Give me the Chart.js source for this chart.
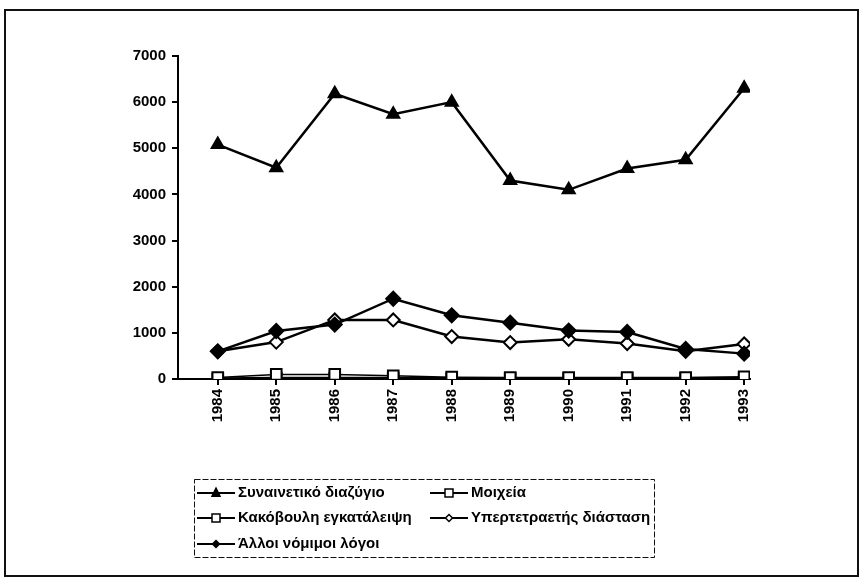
<!DOCTYPE html>
<html>
<head>
<meta charset="utf-8">
<script src="https://cdn.jsdelivr.net/npm/chart.js@4.4.1/dist/chart.umd.min.js"></script>
<style>
  html, body { margin: 0; padding: 0; background: #fff; }
  #wrap { width: 864px; height: 581px; position: relative; }
</style>
</head>
<body>
<div id="wrap"><canvas id="chart" width="864" height="581"></canvas></div>
<script>
// data
const years = [1984, 1985, 1986, 1987, 1988, 1989, 1990, 1991, 1992, 1993];
const synainetiko = [5080, 4580, 6180, 5740, 6000, 4300, 4100, 4560, 4750, 6300];
const moixeia = [10, 20, 20, 20, 15, 15, 15, 15, 15, 20];
const kakovouli = [30, 100, 100, 70, 40, 30, 30, 30, 30, 50];
const ypertetraetis = [600, 800, 1280, 1280, 920, 790, 860, 770, 600, 760];
const alloi = [600, 1040, 1180, 1740, 1380, 1220, 1050, 1020, 650, 550];
const yTicks = [0, 1000, 2000, 3000, 4000, 5000, 6000, 7000];

const labels = ['Συναινετικό διαζύγιο', 'Μοιχεία', 'Κακόβουλη εγκατάλειψη', 'Υπερτετραετής διάσταση', 'Άλλοι νόμιμοι λόγοι'];
const FONT = '"Liberation Sans", Arial, sans-serif';

function pts(arr) {
  return years.map((y, i) => ({ x: y, y: arr[i] }));
}

function ds(label, arr, style, radius, fill, order) {
  return {
    label: label,
    data: pts(arr),
    borderColor: '#000',
    borderWidth: 2.5,
    pointStyle: style,
    pointRadius: radius,
    pointBackgroundColor: fill,
    pointBorderColor: '#000',
    pointBorderWidth: 2,
    tension: 0,
    order: order
  };
}

const datasets = [
  ds(labels[0], synainetiko, 'triangle', 7, '#000', 0),
  ds(labels[1], moixeia, 'rect', 7.5, '#fff', 2),
  ds(labels[2], kakovouli, 'rect', 7.5, '#fff', 1),
  ds(labels[3], ypertetraetis, 'rectRot', 6.5, '#fff', 4),
  ds(labels[4], alloi, 'rectRot', 7, '#000', 3)
];
datasets[2].borderWidth = 1.5;

// frame + legend box drawn like the original Excel sheet
const framePlugin = {
  id: 'frame',
  afterDraw(chart) {
    const ctx = chart.ctx;
    ctx.save();
    ctx.strokeStyle = '#111';
    ctx.lineWidth = 2;
    ctx.strokeRect(5, 10, 853, 566);

    // legend box
    ctx.lineWidth = 1;
    ctx.setLineDash([6, 2]);
    ctx.strokeRect(194.5, 479.5, 460, 78);
    ctx.setLineDash([]);

    const items = [
      [197, 493], [430, 493],
      [197, 518], [430, 518],
      [197, 544]
    ];
    ctx.font = 'bold 15px ' + FONT;
    ctx.textBaseline = 'middle';
    chart.data.datasets.forEach((d, i) => {
      const [x, y] = items[i];
      const cx = x + 19;
      ctx.strokeStyle = '#000';
      ctx.lineWidth = 2;
      ctx.beginPath();
      ctx.moveTo(x, y);
      ctx.lineTo(x + 38, y);
      ctx.stroke();
      ctx.fillStyle = d.pointBackgroundColor;
      ctx.beginPath();
      const r = d.pointStyle === 'rectRot' ? 3.5 : 4;
      if (d.pointStyle === 'triangle') {
        ctx.moveTo(cx, y - r * 1.2);
        ctx.lineTo(cx + r, y + r * 0.8);
        ctx.lineTo(cx - r, y + r * 0.8);
      } else if (d.pointStyle === 'rect') {
        ctx.rect(cx - r, y - r, 2 * r, 2 * r);
      } else {
        ctx.moveTo(cx, y - r);
        ctx.lineTo(cx + r, y);
        ctx.lineTo(cx, y + r);
        ctx.lineTo(cx - r, y);
      }
      ctx.closePath();
      ctx.fill();
      ctx.lineWidth = 1.5;
      ctx.stroke();
      ctx.fillStyle = '#000';
      ctx.fillText(d.label, x + 41, y);
    });
    ctx.restore();
  }
};

new Chart(document.getElementById('chart'), {
  type: 'line',
  data: { datasets: datasets },
  options: {
    responsive: false,
    animation: false,
    layout: { padding: { top: 56, right: 114, left: 0, bottom: 0 } },
    plugins: {
      legend: { display: false },
      tooltip: { enabled: false }
    },
    scales: {
      x: {
        type: 'linear',
        min: 1983.32,
        max: 1993.1,
        afterBuildTicks: s => { s.ticks = years.map(v => ({ value: v })); },
        afterFit: s => { s.height = 202; },
        border: { display: true, color: '#000', width: 2 },
        grid: { display: true, drawOnChartArea: false, color: '#000', lineWidth: 2, tickLength: 6 },
        ticks: {
          color: '#000',
          font: { family: FONT, size: 15, weight: 'bold' },
          minRotation: 90,
          maxRotation: 90,
          padding: 4,
          callback: v => String(v)
        }
      },
      y: {
        min: 0,
        max: 7000,
        afterBuildTicks: s => { s.ticks = yTicks.map(v => ({ value: v })); },
        afterFit: s => { s.width = 178; },
        border: { display: true, color: '#000', width: 2 },
        grid: { display: true, drawOnChartArea: false, color: '#000', lineWidth: 2, tickLength: 6 },
        ticks: {
          color: '#000',
          font: { family: FONT, size: 15, weight: 'bold' },
          padding: 6,
          callback: v => String(v)
        }
      }
    }
  },
  plugins: [framePlugin]
});
</script>
</body>
</html>
